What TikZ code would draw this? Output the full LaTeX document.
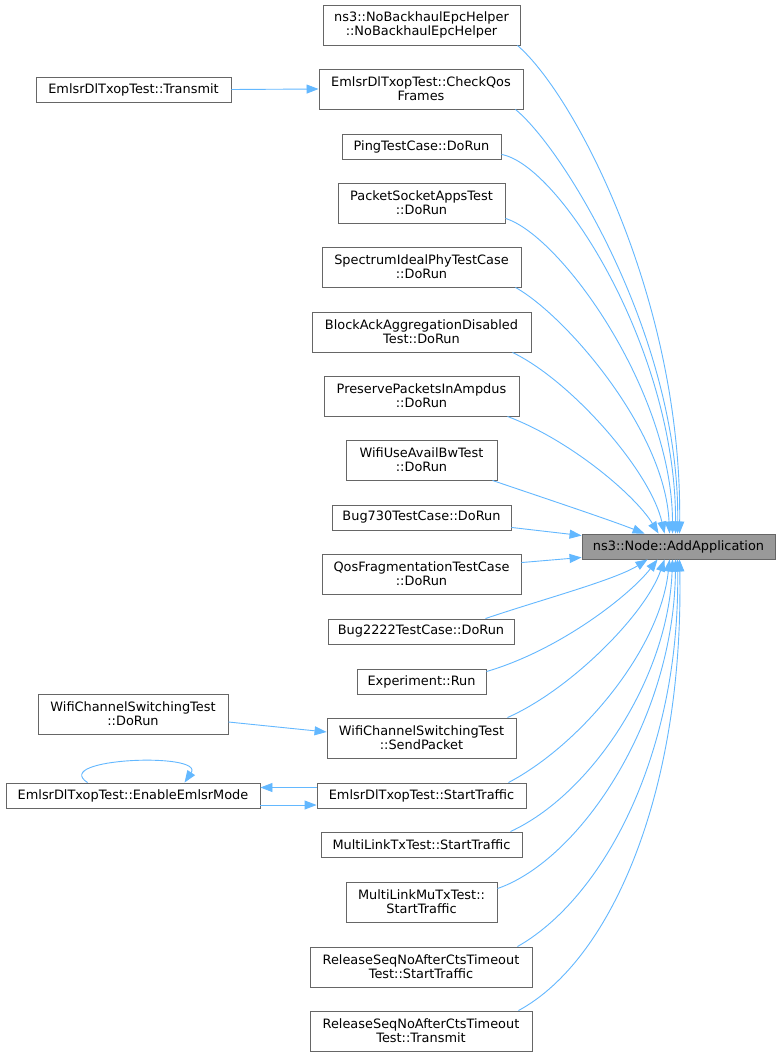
\documentclass[tikz,border=0pt]{standalone}
\usepackage{fontspec}
\setmainfont{DejaVu Sans}
\usetikzlibrary{arrows.meta,calc}
\definecolor{edgeblue}{HTML}{63B8FF}
\definecolor{boxborder}{HTML}{666666}
\definecolor{targetfill}{HTML}{999999}
\begin{document}
\begin{tikzpicture}[x=1pt,y=-1pt,
  fnbox/.style={draw=boxborder,line width=0.9pt,fill=white,inner sep=0pt,align=center,
    font=\fontsize{12.9}{14}\selectfont},
  tgtbox/.style={fnbox,fill=targetfill},
  calledge/.style={draw=edgeblue,line width=0.9pt,-{Triangle[length=12pt,width=9pt]}}]
\useasboundingbox[fill=white] (0,0) rectangle (781,1056);
% target
\node[tgtbox,minimum width=193pt,minimum height=25pt] (AA) at (678.5,546.5) {ns3::Node::AddApplication};
% middle column
\node[fnbox,minimum width=197pt,minimum height=40pt] (n1) at (421.5,25) {ns3::NoBackhaulEpcHelper\\::NoBackhaulEpcHelper};
\node[fnbox,minimum width=204pt,minimum height=40pt] (n2) at (421,89) {EmlsrDlTxopTest::CheckQos\\Frames};
\node[fnbox,minimum width=159pt,minimum height=25pt] (n3) at (421.5,146.5) {PingTestCase::DoRun};
\node[fnbox,minimum width=167pt,minimum height=40pt] (n4) at (421.5,203) {PacketSocketAppsTest\\::DoRun};
\node[fnbox,minimum width=199pt,minimum height=40pt] (n5) at (421.5,267) {SpectrumIdealPhyTestCase\\::DoRun};
\node[fnbox,minimum width=219pt,minimum height=40pt] (n6) at (421.5,332) {BlockAckAggregationDisabled\\Test::DoRun};
\node[fnbox,minimum width=195pt,minimum height=40pt] (n7) at (421.5,396) {PreservePacketsInAmpdus\\::DoRun};
\node[fnbox,minimum width=151pt,minimum height=40pt] (n8) at (421.5,460) {WifiUseAvailBwTest\\::DoRun};
\node[fnbox,minimum width=179pt,minimum height=25pt] (n9) at (421.5,517.5) {Bug730TestCase::DoRun};
\node[fnbox,minimum width=199pt,minimum height=40pt] (n10) at (421.5,574) {QosFragmentationTestCase\\::DoRun};
\node[fnbox,minimum width=186pt,minimum height=25pt] (n11) at (421,631.5) {Bug2222TestCase::DoRun};
\node[fnbox,minimum width=129pt,minimum height=25pt] (n12) at (421.5,681.5) {Experiment::Run};
\node[fnbox,minimum width=189pt,minimum height=40pt] (n13) at (421.5,738) {WifiChannelSwitchingTest\\::SendPacket};
\node[fnbox,minimum width=209pt,minimum height=25pt] (n14) at (421.5,795.5) {EmlsrDlTxopTest::StartTraffic};
\node[fnbox,minimum width=201pt,minimum height=25pt] (n15) at (421.5,844.5) {MultiLinkTxTest::StartTraffic};
\node[fnbox,minimum width=151pt,minimum height=40pt] (n16) at (421.5,902) {MultiLinkMuTxTest::\\StartTraffic};
\node[fnbox,minimum width=222pt,minimum height=40pt] (n17) at (421,967) {ReleaseSeqNoAfterCtsTimeout\\Test::StartTraffic};
\node[fnbox,minimum width=222pt,minimum height=40pt] (n18) at (421,1031) {ReleaseSeqNoAfterCtsTimeout\\Test::Transmit};
% left column
\node[fnbox,minimum width=195pt,minimum height=25pt] (L1) at (133.5,89.5) {EmlsrDlTxopTest::Transmit};
\node[fnbox,minimum width=190pt,minimum height=40pt] (L2) at (133,714) {WifiChannelSwitchingTest\\::DoRun};
\node[fnbox,minimum width=254pt,minimum height=25pt] (L3) at (133,795.5) {EmlsrDlTxopTest::EnableEmlsrMode};
% edges to target (top)
\path[calledge] ($(n1.south east)+(-3,0)$) .. controls (575,95) and (682,300) .. ($(AA.north west)+(98,0)$);
\path[calledge] ($(n2.south east)+(-8,0)$) .. controls (565,150) and (680,340) .. ($(AA.north west)+(96,0)$);
\path[calledge] ($(n3.south east)+(0,-5)$) .. controls (560,165) and (676,350) .. ($(AA.north west)+(94,0)$);
\path[calledge] ($(n4.south east)+(0,-5)$) .. controls (560,235) and (672,390) .. ($(AA.north west)+(91,0)$);
\path[calledge] ($(n5.south east)+(-6,0)$) .. controls (565,315) and (665,430) .. ($(AA.north west)+(88,0)$);
\path[calledge] ($(n6.south east)+(-19,0)$) .. controls (570,380) and (650,470) .. ($(AA.north west)+(83,0)$);
\path[calledge] ($(n7.south east)+(-12,0)$) .. controls (570,440) and (635,495) .. ($(AA.north west)+(77,0)$);
\path[calledge] ($(n8.south east)+(-5,0)$) .. controls (550,500) and (610,520) .. ($(AA.north west)+(63,0)$);
\path[calledge] ($(n9.south east)+(0,-3)$) -- ($(AA.north west)+(0,2)$);
\path[calledge] ($(n10.north east)+(0,9)$) -- ($(AA.south west)+(0,-2)$);
% edges to target (bottom)
\path[calledge] ($(n11.north east)+(-29,0)$) .. controls (540,600) and (615,580) .. ($(AA.south west)+(66,0)$);
\path[calledge] ($(n12.north east)+(0,3)$) .. controls (560,650) and (630,595) .. ($(AA.south west)+(76,0)$);
\path[calledge] ($(n13.north east)+(-9,0)$) .. controls (570,690) and (645,615) .. ($(AA.south west)+(83,0)$);
\path[calledge] ($(n14.north east)+(-18,0)$) .. controls (580,745) and (660,650) .. ($(AA.south west)+(88,0)$);
\path[calledge] ($(n15.north east)+(-12,0)$) .. controls (590,795) and (668,680) .. ($(AA.south west)+(91,0)$);
\path[calledge] ($(n16.north east)+(0,7)$) .. controls (580,860) and (674,720) .. ($(AA.south west)+(94,0)$);
\path[calledge] ($(n17.north east)+(-15,0)$) .. controls (600,900) and (680,760) .. ($(AA.south west)+(96,0)$);
\path[calledge] ($(n18.north east)+(-14,0)$) .. controls (612,960) and (684,790) .. ($(AA.south west)+(98,0)$);
% left edges
\path[calledge] (L1.east) -- (n2.west);
\path[calledge] ($(L2.east)+(0,8)$) -- ($(n13.west)+(0,-6)$);
\path[calledge] ($(n14.west)+(0,-8)$) -- ($(L3.east)+(0,-8)$);
\path[calledge] ($(L3.east)+(0,9.5)$) -- ($(n14.west)+(0,9.5)$);
\path[calledge] ($(L3.north west)+(82,0)$) .. controls (50,758) and (205,752) .. ($(L3.north west)+(179,0)$);
\end{tikzpicture}
\end{document}
